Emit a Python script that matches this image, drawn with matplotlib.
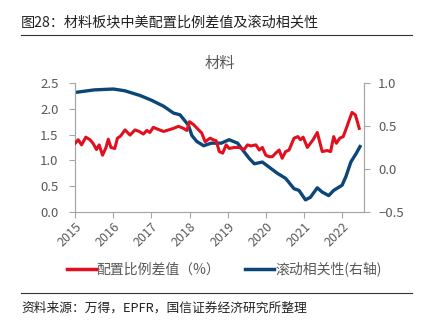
import matplotlib
matplotlib.use("Agg")
import matplotlib.pyplot as plt
from matplotlib.lines import Line2D

plt.rcParams['font.family'] = ['Noto Sans CJK SC', 'DejaVu Sans']

# 配置比例差值 (%), left axis
diff_years = [2015.00, 2015.08, 2015.17, 2015.28, 2015.39, 2015.47, 2015.56, 2015.63, 2015.72, 2015.81,
              2015.87, 2015.94, 2016.04, 2016.11, 2016.19, 2016.31, 2016.44, 2016.57, 2016.68, 2016.79,
              2016.88, 2016.96, 2017.05, 2017.18, 2017.32, 2017.45, 2017.58, 2017.71, 2017.84, 2017.93,
              2018.00, 2018.11, 2018.24, 2018.32, 2018.41, 2018.54, 2018.62, 2018.70, 2018.78, 2018.87,
              2018.96, 2019.04, 2019.17, 2019.30, 2019.43, 2019.52, 2019.61, 2019.74, 2019.83, 2019.91,
              2020.00, 2020.09, 2020.17, 2020.26, 2020.35, 2020.43, 2020.52, 2020.61, 2020.74, 2020.84,
              2020.91, 2020.98, 2021.09, 2021.17, 2021.24, 2021.35, 2021.48, 2021.61, 2021.70, 2021.78,
              2021.85, 2021.94, 2022.03, 2022.13, 2022.26, 2022.35, 2022.45]
diff_vals = [1.33, 1.40, 1.30, 1.45, 1.40, 1.33, 1.21, 1.30, 1.10, 1.25,
             1.41, 1.25, 1.23, 1.43, 1.47, 1.59, 1.49, 1.59, 1.56, 1.51,
             1.58, 1.54, 1.64, 1.60, 1.56, 1.59, 1.62, 1.66, 1.62, 1.58,
             1.75, 1.69, 1.59, 1.53, 1.36, 1.43, 1.40, 1.38, 1.17, 1.14,
             1.30, 1.23, 1.25, 1.25, 1.21, 1.30, 1.28, 1.30, 1.20, 1.25,
             1.10, 1.07, 1.07, 1.14, 1.20, 1.04, 1.17, 1.20, 1.43, 1.46,
             1.40, 1.45, 1.25, 1.33, 1.40, 1.54, 1.17, 1.19, 1.17, 1.46,
             1.33, 1.43, 1.46, 1.66, 1.93, 1.88, 1.62]

# 滚动相关性, right axis
corr_years = [2015.00, 2015.50, 2016.00, 2016.30, 2016.70, 2017.00, 2017.32, 2017.58, 2017.75, 2017.97,
              2018.06, 2018.19, 2018.37, 2018.57, 2018.83, 2019.04, 2019.26, 2019.43, 2019.57, 2019.70,
              2019.91, 2020.09, 2020.30, 2020.52, 2020.74, 2020.87, 2021.04, 2021.17, 2021.35, 2021.48,
              2021.65, 2021.78, 2022.00, 2022.10, 2022.23, 2022.37, 2022.47]
corr_vals = [0.89, 0.92, 0.93, 0.91, 0.855, 0.80, 0.73, 0.65, 0.63, 0.51,
             0.39, 0.32, 0.27, 0.30, 0.30, 0.34, 0.30, 0.20, 0.12, 0.06,
             0.08, 0.02, -0.05, -0.11, -0.23, -0.25, -0.36, -0.33, -0.22, -0.27,
             -0.31, -0.25, -0.19, -0.09, 0.08, 0.18, 0.26]

year_ticks = [2015, 2016, 2017, 2018, 2019, 2020, 2021, 2022]
left_ticks = [0.0, 0.5, 1.0, 1.5, 2.0, 2.5]
right_ticks = [-0.5, 0.0, 0.5, 1.0]

RED = '#E2101E'
BLUE = '#0A4677'
GRAY = '#A6A6A6'
TXT = '#595959'


def fmt(v):
    return ('%.1f' % v).replace('-', '\u2212')


fig = plt.figure(figsize=(4.22, 3.23), dpi=100)
ax = fig.add_axes([0.178, 0.344, 0.685, 0.399])
ax2 = ax.twinx()

ax.plot(diff_years, diff_vals, color=RED, lw=2.2, zorder=3)
ax2.plot(corr_years, corr_vals, color=BLUE, lw=2.4)
ax.set_zorder(ax2.get_zorder() + 1)
ax.patch.set_visible(False)

ax.set_xlim(2015.0, 2022.58)
ax.set_ylim(0, 2.5)
ax2.set_ylim(-0.5, 1.0)
ax.set_xticks(year_ticks)
ax.set_xticklabels([str(y) for y in year_ticks], rotation=45, ha='right',
                   rotation_mode='anchor', fontsize=9, color=TXT)
ax.set_yticks(left_ticks)
ax.set_yticklabels([fmt(v) for v in left_ticks], fontsize=9.5, color=TXT)
ax2.set_yticks(right_ticks)
ax2.set_yticklabels([fmt(v) for v in right_ticks], fontsize=9.5, color=TXT)

for a in (ax, ax2):
    a.spines['top'].set_visible(False)
    for s in ('left', 'right', 'bottom'):
        a.spines[s].set_color(GRAY)
    a.tick_params(colors=GRAY, labelcolor=TXT, length=4, width=0.8)
ax.tick_params(axis='x', pad=2)
ax.tick_params(axis='y', pad=8)
ax2.tick_params(axis='y', pad=6)

ax.set_title('材料', fontsize=11, color=TXT, pad=11)

fig.text(0.05, 0.929, '图28：材料板块中美配置比例差值及滚动相关性', fontsize=10.2, color='#222222', va='center')
fig.add_artist(Line2D([0.05, 0.976], [0.892, 0.892], color='#333333', lw=0.8))
fig.add_artist(Line2D([0.05, 0.976], [0.093, 0.093], color='#333333', lw=0.8))
fig.text(0.05, 0.047, '资料来源：万得，EPFR，国信证券经济研究所整理', fontsize=9.2, color='#222222', va='center')

handles = [Line2D([], [], color=RED, lw=2.5), Line2D([], [], color=BLUE, lw=2.5)]
fig.legend(handles, ['配置比例差值（%）', '滚动相关性(右轴)'], loc='center left',
           bbox_to_anchor=(0.128, 0.167), ncol=2, frameon=False, fontsize=10,
           handlelength=2.1, handletextpad=0.05, columnspacing=1.8,
           labelcolor=TXT)

fig.savefig('out.png', dpi=100)
